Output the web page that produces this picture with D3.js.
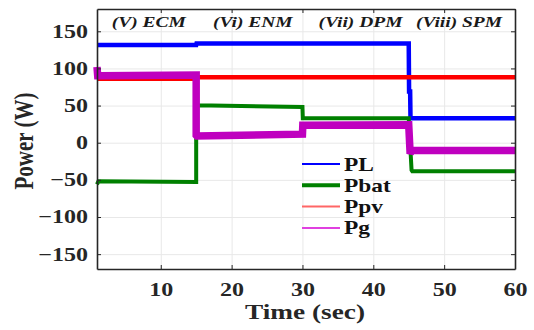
<!DOCTYPE html>
<html>
<head>
<meta charset="utf-8">
<script src="https://cdn.jsdelivr.net/npm/d3@7"></script>
<style>
  body { margin: 0; background: #fff; }
  svg { font-family: "Liberation Serif", "DejaVu Serif", serif; }
  .grid line { stroke: #e8e8e8; }
  .grid path { display: none; }
</style>
</head>
<body>
<svg id="chart" width="534" height="330"></svg>
<script>
// step series (time in sec, power in W)
const plT   = [1, 15, 15.05, 45, 45.05, 45.2, 45.25, 60];
const plV   = [131.5, 131.5, 133.5, 133.5, 69, 69, 33, 33];
const pbatT = [1, 1.2, 15, 15, 15.1, 30, 30.05, 45, 45.4, 45.5, 60];
const pbatV = [-56, -52, -53, 52, 50.5, 48, 33, 33, -37, -38.5, -38.5];
const ppvT  = [1, 15, 15.3, 60];
const ppvV  = [86, 86, 88, 88];
const pgT   = [1, 1.1, 1.3, 15, 15, 15.1, 30, 30.05, 45, 45.2, 45.4, 60];
const pgV   = [102, 90, 90, 91, 10, 9, 11.5, 23.5, 24, -15, -10.5, -10.5];
const modeLabels = ['(V) ECM', '(Vi) ENM', '(Vii) DPM', '(Viii) SPM'];
const modeAt = [8.3, 23, 38.2, 52.1];
const xTicks = [10, 20, 30, 40, 50, 60];
const yTicks = [-150, -100, -50, 0, 50, 100, 150];

const SX = 1.3; // the text in the picture is stretched sideways

const svg = d3.select('#chart');
const margin = { top: 9, right: 19, bottom: 61, left: 97 };
const chartWidth = 534 - margin.left - margin.right;
const chartHeight = 330 - margin.top - margin.bottom;

const xScale = d3.scaleLinear().domain([1, 60]).range([0, chartWidth]);
const yScale = d3.scaleLinear().domain([-170, 180]).range([chartHeight, 0]);

function stretch(sel) {
    sel.each(function() {
        const t = d3.select(this);
        const x = +t.attr('x') || 0;
        const y = +t.attr('y') || 0;
        t.attr('x', 0).attr('y', 0)
            .attr('transform', `translate(${x},${y}) scale(${SX},1)`);
    });
}

const g = svg.append('g')
    .attr('transform', `translate(${margin.left},${margin.top})`);

// grid
g.append('g')
    .attr('class', 'grid')
    .attr('transform', `translate(0,${chartHeight})`)
    .call(d3.axisBottom(xScale).tickValues(xTicks).tickSize(-chartHeight).tickFormat(''));
g.append('g')
    .attr('class', 'grid')
    .call(d3.axisLeft(yScale).tickValues(yTicks).tickSize(-chartWidth).tickFormat(''));

const series = [
    { name: 'PL',   t: plT,   v: plV,   color: '#0000ff', width: 4.5 },
    { name: 'Ppv',  t: ppvT,  v: ppvV,  color: '#ff0000', width: 4.5 },
    { name: 'Pbat', t: pbatT, v: pbatV, color: '#008000', width: 4 },
    { name: 'Pg',   t: pgT,   v: pgV,   color: '#bf00bf', width: 7.5 }
];

const line = d3.line().x(d => xScale(d[0])).y(d => yScale(d[1]));

g.selectAll('.series')
    .data(series)
    .enter().append('path')
    .attr('class', 'series')
    .attr('fill', 'none')
    .attr('stroke', d => d.color)
    .attr('stroke-width', d => d.width)
    .attr('d', d => line(d.t.map((t, i) => [t, d.v[i]])));

// frame and ticks (inward, mirrored)
const axisColor = '#262626';
const xAxis = g.append('g')
    .attr('transform', `translate(0,${chartHeight})`)
    .call(d3.axisBottom(xScale).tickValues(xTicks).tickSizeInner(-4).tickSizeOuter(0).tickPadding(14));
const xTop = g.append('g')
    .call(d3.axisTop(xScale).tickValues(xTicks).tickSizeInner(-4).tickSizeOuter(0).tickFormat(''));
const yAxis = g.append('g')
    .call(d3.axisLeft(yScale).tickValues(yTicks).tickSizeInner(-4).tickSizeOuter(0).tickPadding(9));
const yRight = g.append('g')
    .attr('transform', `translate(${chartWidth},0)`)
    .call(d3.axisRight(yScale).tickValues(yTicks).tickSizeInner(-4).tickSizeOuter(0).tickFormat(''));

[xAxis, xTop, yAxis, yRight].forEach(a => {
    a.selectAll('path').attr('stroke', axisColor).attr('stroke-width', 1.6);
    a.selectAll('line').attr('stroke', axisColor);
    a.selectAll('text')
        .attr('fill', axisColor)
        .attr('font-family', '"Liberation Serif", serif')
        .attr('font-weight', 'bold')
        .attr('font-size', '18.5px')
        .call(stretch);
});

// mode labels
g.selectAll('.mode')
    .data(modeLabels)
    .enter().append('text')
    .attr('class', 'mode')
    .attr('x', (d, i) => xScale(modeAt[i]))
    .attr('y', 17.5)
    .attr('text-anchor', 'middle')
    .attr('font-style', 'italic')
    .attr('font-weight', 'bold')
    .attr('font-size', '15px')
    .attr('fill', '#1a1a1a')
    .text(d => d)
    .call(stretch);

// axis titles
g.append('text')
    .attr('x', chartWidth / 2 - 1)
    .attr('y', chartHeight + 50)
    .attr('text-anchor', 'middle')
    .attr('font-weight', 'bold')
    .attr('font-size', '21px')
    .attr('fill', axisColor)
    .text('Time (sec)')
    .call(stretch);
svg.append('text')
    .attr('transform', `translate(33,${margin.top + chartHeight / 2 + 2}) scale(${SX},1) rotate(-90)`)
    .attr('text-anchor', 'middle')
    .attr('font-weight', 'bold')
    .attr('font-size', '21px')
    .attr('fill', axisColor)
    .text('Power (W)');

// legend
const legend = [
    { name: 'PL',   color: '#0000ff', width: 2 },
    { name: 'Pbat', color: '#008000', width: 4 },
    { name: 'Ppv',  color: '#ff6666', width: 2 },
    { name: 'Pg',   color: '#e040e0', width: 2 }
];
const lg = g.append('g').attr('transform', `translate(${302 - margin.left},${164 - margin.top})`);
const rows = lg.selectAll('g')
    .data(legend)
    .enter().append('g')
    .attr('transform', (d, i) => `translate(0,${i * 21.3})`);
rows.append('line')
    .attr('x1', 0).attr('x2', 38)
    .attr('stroke', d => d.color)
    .attr('stroke-width', d => d.width);
rows.append('text')
    .attr('x', 42)
    .attr('y', 6.5)
    .attr('font-weight', 'bold')
    .attr('font-size', '18px')
    .attr('fill', '#111')
    .text(d => d.name)
    .call(stretch);
</script>
</body>
</html>
